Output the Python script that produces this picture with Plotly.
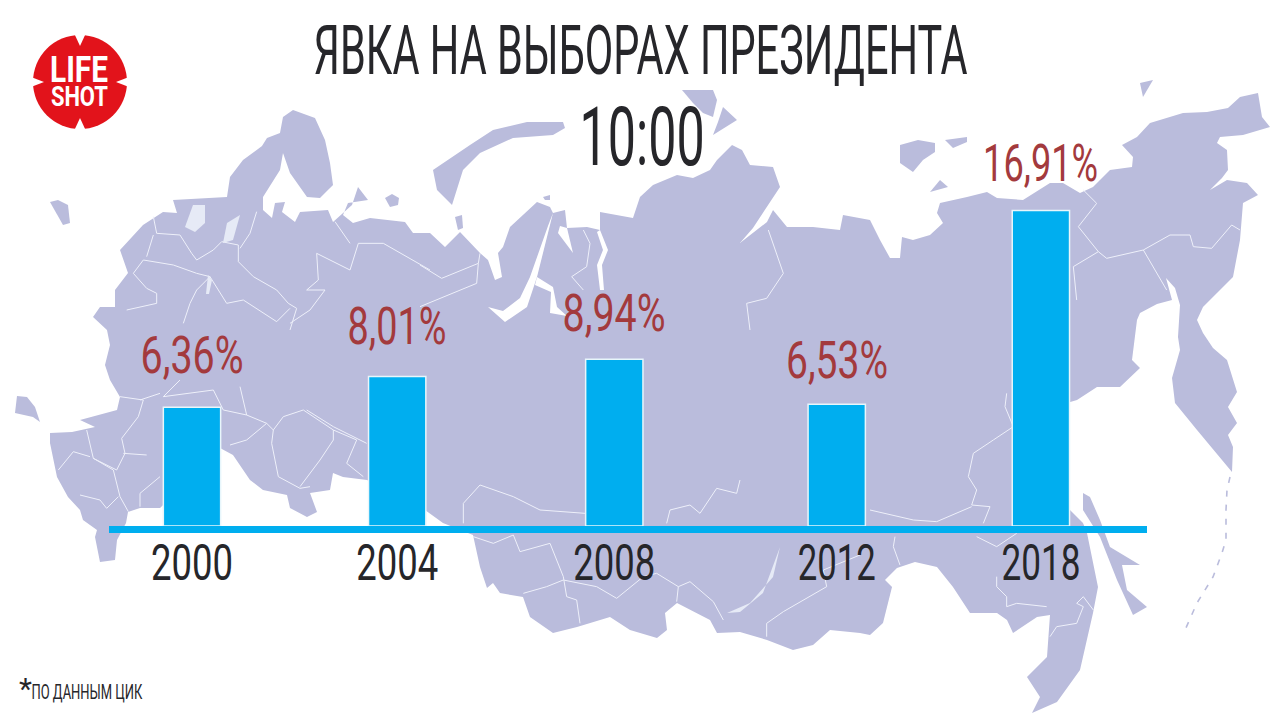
import json
import plotly.graph_objects as go

# ---- chart data ----
years = ["2000", "2004", "2008", "2012", "2018"]
turnout = [6.36, 8.01, 8.94, 6.53, 16.91]
labels = ["6,36%", "8,01%", "8,94%", "6,53%", "16,91%"]
title_text = "ЯВКА НА ВЫБОРАХ ПРЕЗИДЕНТА"
time_text = "10:00"
note_text = "ПО ДАННЫМ ЦИК"

# ---- layout tuning (small slot offsets and label gaps in the original design) ----
slot = list(range(len(years)))
slot_nudge = [0.0, -0.033, -0.01, 0.038, 0.0]
label_gap_px = [19, 18, 13, 11, 15]

# rendered widths of the condensed lettering (no condensed face is installed)
text_widths = {
    title_text: 654, time_text: 125, note_text: 111,
    "6,36%": 103, "8,01%": 99, "8,94%": 103, "6,53%": 102, "16,91%": 115,
    "2000": 82, "2004": 82, "2008": 82, "2012": 78, "2018": 79,
    "LIFE": 58, "SHOT": 57,
}

W, H = 1280, 720
FONT = "Roboto, sans-serif"
DARK = "#26262a"
RED = "#a33a3d"
BLUE = "#00aeef"
MAP = "#babcdc"
LAKE = "#e6eaf6"


def P(pts):
    return [(x / W, 1 - y / H) for x, y in pts]


def path(pts, close=True):
    s = "M" + " L".join(f"{x:.5f},{y:.5f}" for x, y in P(pts))
    return s + (" Z" if close else "")


def Z(ox, oy, seq):
    return [(ox + a / 3, oy + b / 3) for a, b in seq]


mainland = [
    (50, 433), (50, 443), (57, 477), (68, 497), (80, 510), (83, 520), (97, 530), (95, 537), (100, 562),
    (115, 560), (117, 540), (126, 523), (128, 512), (140, 508), (160, 508), (200, 470), (220, 448),
    (233, 455), (250, 480), (263, 490), (287, 495), (290, 508), (307, 517), (317, 512), (310, 493),
    (330, 490), (333, 473), (343, 477), (367, 480), (425, 510), (443, 523), (473, 535), (480, 567),
    (487, 588), (493, 583), (500, 593), (523, 597), (530, 617), (553, 633), (577, 627), (610, 617),
    (630, 630), (657, 638), (667, 630), (665, 613), (677, 603), (710, 620), (717, 633), (740, 632),
    (767, 640), (793, 650), (813, 645), (830, 630), (860, 633), (870, 635), (883, 623), (892, 587),
    (885, 580), (897, 568), (915, 562), (937, 567), (953, 587), (970, 613), (997, 613), (1007, 620),
    (1013, 633), (1037, 617), (1050, 615), (1047, 657), (1027, 677), (1040, 697), (1032, 713),
    (1057, 702), (1080, 670), (1093, 613), (1098, 587), (1087, 533), (1083, 523), (1070, 510),
    (1060, 510), (1060, 405), (1077, 400), (1097, 387), (1120, 387), (1140, 368), (1132, 360),
    (1137, 320), (1140, 313), (1157, 304), (1172, 300), (1166, 278), (1175, 288), (1180, 305),
    (1178, 337), (1180, 350), (1172, 378), (1175, 403), (1197, 430), (1232, 472), (1233, 447),
    (1228, 435), (1237, 423), (1228, 407), (1237, 392), (1227, 360), (1213, 348), (1203, 333),
    (1197, 320), (1203, 307), (1217, 293), (1233, 277), (1240, 240), (1243, 203), (1258, 195),
    (1247, 183), (1227, 180), (1210, 190), (1222, 178), (1228, 170), (1227, 150), (1217, 143),
    (1220, 137), (1243, 135), (1270, 127), (1262, 117), (1258, 93), (1240, 97), (1228, 108),
    (1207, 112), (1183, 113), (1150, 123), (1137, 137), (1122, 145), (1133, 157), (1132, 167),
    (1110, 170), (1093, 187), (1080, 193), (1063, 183), (1050, 183), (1023, 200), (997, 198),
    (987, 192), (967, 197), (940, 203), (937, 213), (943, 223), (930, 235), (913, 240), (902, 237),
    (900, 258), (890, 258), (880, 240), (870, 220), (843, 215), (840, 230), (813, 227), (787, 227),
    (773, 210), (767, 222), (740, 243), (753, 228), (780, 187), (773, 167), (750, 165), (742, 150),
    (732, 145), (717, 160), (710, 170), (693, 178), (677, 175), (653, 185), (640, 197), (633, 218),
    (600, 212), (600, 230), (587, 227), (567, 228), (565, 210), (553, 213), (550, 207), (537, 202),
    (510, 227), (503, 247), (498, 253), (502, 277), (495, 280), (488, 260), (480, 253), (460, 232),
    (445, 247), (430, 233), (413, 233), (405, 222), (370, 218), (353, 223), (343, 215), (348, 203),
    (368, 200), (358, 187), (352, 205), (333, 222), (328, 210), (300, 212), (295, 222), (282, 212),
    (285, 202), (275, 203), (272, 218), (263, 210), (263, 197), (280, 170), (283, 153), (290, 173),
    (307, 197), (320, 198), (333, 185), (330, 163), (325, 140), (315, 118), (293, 110), (283, 117),
    (280, 133), (267, 138), (262, 146), (243, 160), (230, 177), (227, 197), (173, 200), (177, 213),
    (163, 212), (143, 225), (120, 250), (128, 273), (115, 290), (115, 307), (100, 307), (93, 317),
    (107, 330), (110, 345), (105, 365), (110, 380), (120, 397), (117, 410), (80, 420), (95, 427),
    (72, 432),
]

islands = [
    [(17, 396), (27, 397), (35, 407), (40, 422), (47, 427), (33, 417), (15, 413)],
    [(50, 202), (58, 200), (68, 205), (70, 223), (63, 225)],
    [(433, 170), (470, 145), (493, 130), (527, 122), (563, 122), (565, 128), (553, 135), (513, 138),
     (480, 153), (463, 170), (452, 205), (437, 190)],
    [(385, 198), (392, 194), (399, 198), (398, 205), (390, 207)],
    [(455, 217), (462, 215), (463, 228), (458, 230)],
    [(543, 197), (550, 195), (550, 200), (545, 200)],
    [(682, 90), (713, 90), (717, 100), (713, 117), (703, 113), (693, 103)],
    [(723, 107), (737, 120), (713, 135), (718, 122)],
    [(900, 145), (918, 140), (935, 143), (935, 152), (923, 160), (913, 172), (900, 163)],
    [(945, 140), (967, 137), (967, 142), (953, 148)],
    [(930, 192), (940, 180), (948, 187)],
    [(1140, 83), (1153, 80), (1143, 97)],
    [(1083, 493), (1090, 497), (1100, 520), (1110, 547), (1140, 565), (1122, 565), (1127, 590),
     (1147, 607), (1133, 615), (1117, 580), (1100, 537), (1083, 510)],
]

# Ob / Taz estuaries (white inlets)
inlets = [
    [(553, 213), (537, 277), (527, 307), (505, 322), (488, 307), (503, 311), (520, 298), (530, 277), (548, 226)],
    [(537, 277), (553, 287), (557, 307), (567, 316), (550, 313), (551, 292), (535, 285)],
    [(600, 230), (608, 250), (602, 265), (604, 290), (600, 290), (597, 265), (603, 250), (597, 232)],
    [(567, 228), (573, 253), (558, 233), (560, 226)],
]

lakes = [
    [(193, 205), (205, 205), (205, 223), (195, 232), (185, 227)],
    [(227, 223), (240, 215), (233, 240), (223, 243)],
    [(780, 547), (773, 577), (750, 603), (727, 613), (740, 612), (763, 593)],
    [(208, 275), (212, 280), (209, 294), (206, 294)],
]

borders = [
    Z(0, 90, s) for s in [
        [(460, 380), (470, 430), (540, 435), (575, 490), (590, 510), (640, 480), (665, 455), (715, 465), (715, 515), (760, 560), (830, 600), (865, 640), (890, 655), (870, 720)],
        [(770, 365), (750, 430), (720, 475)],
        [(430, 510), (400, 550), (440, 595), (470, 610), (470, 640), (380, 660)],
        [(430, 510), (520, 525), (590, 550), (630, 560), (590, 600), (570, 640), (550, 700)],
        [(630, 560), (680, 640), (730, 630), (830, 695), (870, 655)],
        [(460, 435), (440, 500)],
        [(950, 490), (955, 570), (920, 600), (975, 600), (930, 660), (870, 700)],
        [(950, 490), (1050, 540), (1075, 460), (1150, 460), (1290, 540)],
        [(1005, 395), (1050, 460)],
    ]
] + [
    Z(420, 90, s) for s in [
        [(0, 525), (65, 565), (175, 520), (180, 490)],
        [(0, 650), (170, 580), (175, 520)],
        [(490, 420), (510, 460), (500, 530), (455, 560), (490, 600)],
        [(1045, 420), (1090, 550), (1040, 625), (980, 640), (990, 720)],
    ]
] + [
    Z(850, 80, s) for s in [
        [(700, 330), (740, 370), (685, 440), (745, 515), (670, 560), (680, 660)],
        [(745, 515), (770, 535), (880, 510), (960, 465), (1020, 465), (1030, 500), (1085, 505), (1145, 435), (1170, 450)],
        [(880, 510), (950, 630)],
    ]
] + [
    Z(0, 380, s) for s in [
        [(360, 50), (430, 60), (415, 110), (365, 175), (375, 220), (350, 270), (280, 235), (260, 150)],
        [(280, 235), (340, 270), (360, 350), (385, 395)],
        [(440, 225), (370, 220)],
        [(480, 290), (420, 340), (420, 380)],
        [(640, 30), (670, 90), (740, 105), (800, 130), (740, 180), (690, 195)],
        [(800, 130), (820, 150), (815, 190), (835, 290), (900, 325), (930, 320)],
        [(820, 150), (850, 110), (910, 90), (1000, 150), (1000, 180), (960, 240), (900, 320)],
        [(920, 90), (1000, 140), (1100, 190)],
        [(1000, 150), (1070, 180), (1040, 250), (1090, 290)],
        [(175, 270), (220, 215), (270, 230)],
        [(240, 345), (300, 360), (320, 385), (355, 350)],
        [(480, 40), (420, 60)], [(540, 0), (490, 50), (640, 30)], [(740, 105), (720, 20)],
    ]
] + [
    Z(430, 480, s) for s in [
        [(100, 130), (100, 70), (150, 15), (250, 50), (330, 90), (465, 100)],
        [(710, 130), (720, 90), (780, 75), (810, 100), (860, 25), (920, 40), (930, 0)],
        [(130, 170), (190, 190), (250, 165), (270, 215), (360, 190), (400, 290), (410, 350), (440, 360), (450, 430)],
        [(280, 340), (350, 320), (400, 300), (500, 320), (560, 355), (640, 290), (680, 280), (745, 320), (740, 365)],
        [(745, 320), (780, 305), (850, 365), (880, 420)],
        [(1010, 470), (1010, 430), (1060, 395), (1190, 320), (1180, 270), (1290, 225)],
    ]
] + [
    Z(850, 320, s) for s in [
        [(470, 220), (465, 260), (490, 320), (430, 360), (370, 400), (355, 470), (380, 510), (365, 555), (420, 560), (400, 610)],
        [(60, 570), (190, 600), (260, 605), (365, 560)],
        [(135, 650), (130, 680), (150, 735)],
        [(380, 650), (440, 680), (500, 640)],
        [(440, 770), (440, 800), (470, 830), (470, 860), (500, 850), (590, 860)],
        [(600, 950), (620, 920), (680, 910), (700, 860), (680, 850), (700, 830), (730, 870)],
    ]
]

kurils = [(1230, 477), (1227, 490), (1226, 510), (1226, 540), (1222, 553), (1213, 577), (1197, 603), (1185, 630)]

shapes = []


def add(pts, fill=None, line=None, lw=0, close=True, dash=None):
    d = dict(type="path", xref="paper", yref="paper", layer="below", path=path(pts, close),
             line=dict(width=lw, color=line or "rgba(0,0,0,0)"))
    if dash:
        d["line"]["dash"] = dash
    if fill:
        d["fillcolor"] = fill
    shapes.append(d)


add(mainland, fill=MAP)
for isl in islands:
    add(isl, fill=MAP)
for inl in inlets:
    add(inl, fill="#ffffff")
for b in borders:
    add(b, line="#eef0fa", lw=1, close=False)
for lk in lakes:
    add(lk, fill=LAKE)
add(kurils, line=MAP, lw=1.6, close=False, dash="6px,8px")

# logo
LX, LY, LR = 80, 82, 47
shapes.append(dict(type="circle", xref="paper", yref="paper", layer="above",
                   x0=(LX - LR) / W, x1=(LX + LR) / W, y0=1 - (LY + LR) / H, y1=1 - (LY - LR) / H,
                   fillcolor="#e2131b", line=dict(width=0)))
for tri in ([(LX - 6, LY - 49), (LX + 6, LY - 49), (LX, LY - 36)],
            [(LX - 6, LY + 49), (LX + 6, LY + 49), (LX, LY + 36)],
            [(LX - 49, LY - 5), (LX - 49, LY + 5), (LX - 36, LY)],
            [(LX + 49, LY - 5), (LX + 49, LY + 5), (LX + 36, LY)]):
    shapes.append(dict(type="path", xref="paper", yref="paper", layer="above", path=path(tri),
                       fillcolor="#ffffff", line=dict(width=0)))

xpos = [s + n for s, n in zip(slot, slot_nudge)]

fig = go.Figure(go.Bar(
    x=xpos, y=turnout, width=0.27,
    marker=dict(color=BLUE, line=dict(color="#e8f6fb", width=1.5)),
    hoverinfo="skip",
))

ann = []
for x, y, t, g in zip(xpos, turnout, labels, label_gap_px):
    ann.append(dict(x=x, y=y, xref="x", yref="y", text=t, showarrow=False, yanchor="bottom", yshift=g,
                    font=dict(family=FONT, size=52, color=RED)))


def txt(x, y, t, size, color=DARK, bold=False):
    ann.append(dict(x=x / W, y=1 - y / H, xref="paper", yref="paper", text=f"<b>{t}</b>" if bold else t,
                    showarrow=False, xanchor="center", yanchor="middle",
                    font=dict(family=FONT, size=size, color=color)))


txt(640, 51, title_text, 68)
txt(642, 137, time_text, 82)
txt(79, 70, "LIFE", 36, "#ffffff", True)
txt(79, 97, "SHOT", 28, "#ffffff", True)
txt(25, 688, "*", 30)
txt(86.5, 692, note_text, 21)

fig.update_layout(
    width=W, height=H, margin=dict(l=0, r=0, t=0, b=0), autosize=False,
    paper_bgcolor="#ffffff", plot_bgcolor="rgba(0,0,0,0)", showlegend=False,
    shapes=shapes, annotations=ann,
    xaxis=dict(domain=[109 / W, 1147 / W], range=[-0.391, 4.5], tickmode="array", tickvals=xpos, ticktext=years,
               showgrid=False, zeroline=False, showline=True, linecolor=BLUE, linewidth=7, ticks="",
               tickfont=dict(family=FONT, size=50, color=DARK), ticklabelstandoff=-13, automargin=False),
    yaxis=dict(domain=[(H - 526) / H, 1], range=[0, 28.2], visible=False, automargin=False),
)

# squeeze the real text to the condensed widths of the original lettering
post = (
    "document.body.style.margin='0';"
    f"const tw={json.dumps(text_widths, ensure_ascii=False)};"
    "document.querySelectorAll('svg text').forEach(t=>{const w=tw[t.textContent.trim()];"
    "if(w){t.setAttribute('textLength',w);t.setAttribute('lengthAdjust','spacingAndGlyphs');}});"
)
fig.write_html("out.html", post_script=post, config={"displayModeBar": False})
